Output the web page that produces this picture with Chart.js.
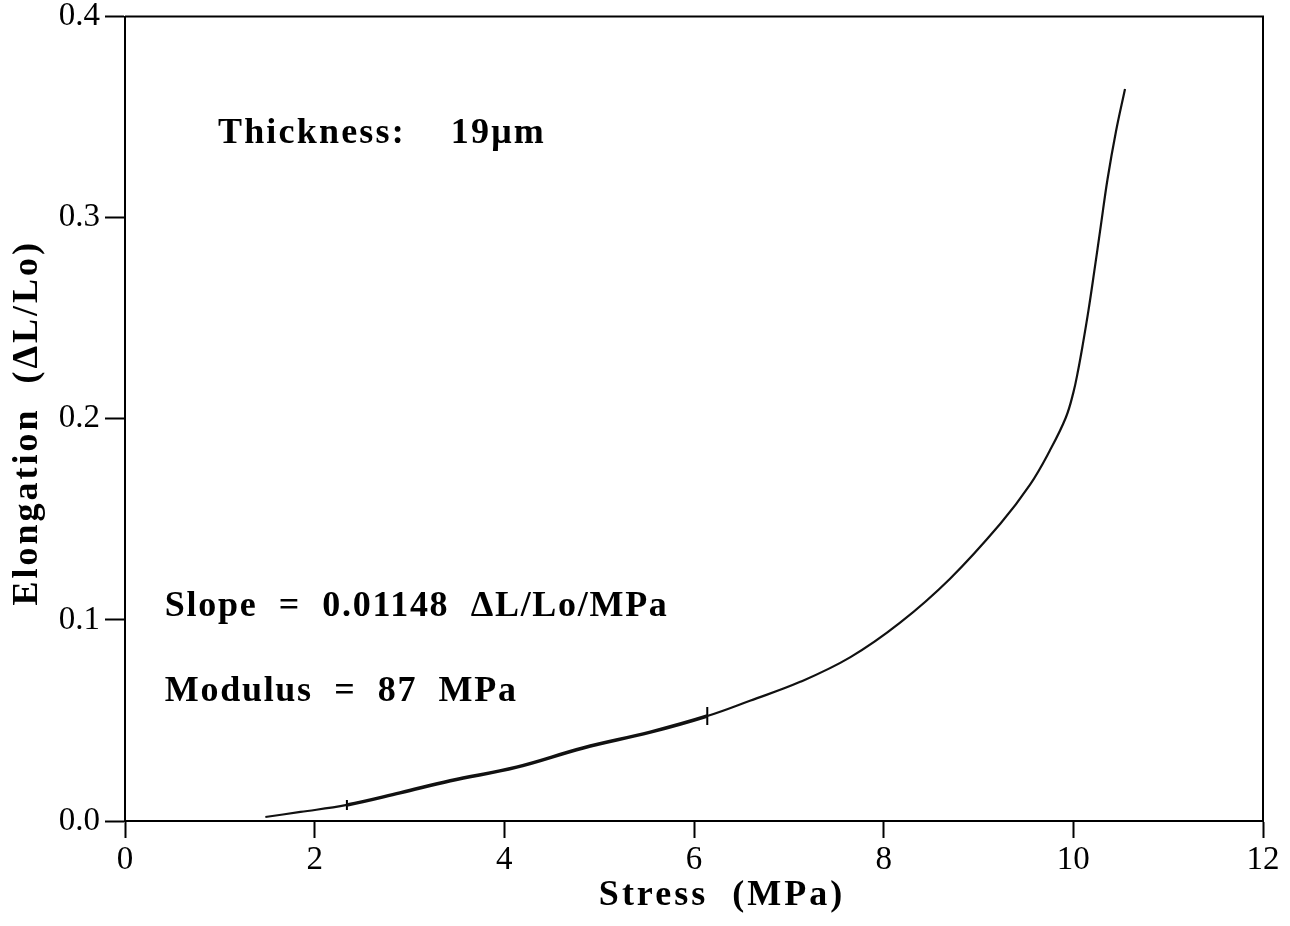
<!DOCTYPE html>
<html>
<head>
<meta charset="utf-8">
<script src="https://cdn.jsdelivr.net/npm/chart.js@4/dist/chart.umd.min.js"></script>
<style>
    html, body { margin: 0; padding: 0; background: #fff; }
    canvas { display: block; }
</style>
</head>
<body>
<canvas id="stressChart" width="1290" height="926"></canvas>
<script>
// Curve: stress (MPa) vs elongation (dL/Lo)
const stress = [1.48, 1.85, 2.34, 2.90, 3.43, 4.13, 4.83, 5.54, 6.14, 6.59, 7.12, 7.65, 8.17, 8.70, 9.23, 9.54, 9.75, 9.92, 10.00, 10.05, 10.10, 10.16, 10.22, 10.29, 10.36, 10.45, 10.545];
const elongation = [0.002, 0.0045, 0.008, 0.014, 0.020, 0.0268, 0.0363, 0.0442, 0.0522, 0.0598, 0.0692, 0.0815, 0.0985, 0.1205, 0.1478, 0.167, 0.184, 0.2005, 0.213, 0.224, 0.237, 0.254, 0.273, 0.296, 0.319, 0.343, 0.364];

// Cursor marks on the curve (start / end of the fit range)
const markStress = [2.34, 6.14];
const markElong = [0.008, 0.0522];
const markSize = [5, 9];

// Axis ticks
const xTicks = [0, 2, 4, 6, 8, 10, 12];
const yTicks = [0.0, 0.1, 0.2, 0.3, 0.4];

// Axis titles and text written inside the plot
const xTitle = 'Stress  (MPa)';
const yTitle = 'Elongation  (\u0394L/Lo)';
const notes = [
    { text: 'Thickness:    19\u03bcm', x: 0.98, y: 0.337 },
    { text: 'Slope  =  0.01148  \u0394L/Lo/MPa', x: 0.42, y: 0.102 },
    { text: 'Modulus  =  87  MPa', x: 0.42, y: 0.0596 }
];

const serif = '"Liberation Serif", "Times New Roman", serif';

// Frame on top and right, axis titles and notes
const framePlugin = {
    id: 'frame',
    afterDraw(chart) {
        const { ctx, chartArea: a, scales } = chart;
        ctx.save();
        ctx.strokeStyle = '#000';
        ctx.lineWidth = 2;
        ctx.beginPath();
        ctx.moveTo(a.left, a.top);
        ctx.lineTo(a.right, a.top);
        ctx.lineTo(a.right, a.bottom);
        ctx.stroke();

        ctx.fillStyle = '#000';
        ctx.font = 'bold 36px ' + serif;
        ctx.letterSpacing = '3px';
        ctx.textAlign = 'center';
        ctx.textBaseline = 'middle';
        ctx.fillText(xTitle, (a.left + a.right) / 2 + 28, 896);
        ctx.save();
        ctx.translate(28, (a.top + a.bottom) / 2 + 4);
        ctx.rotate(-Math.PI / 2);
        ctx.fillText(yTitle, 0, 0);
        ctx.restore();

        ctx.font = 'bold 36px ' + serif;
        ctx.textBaseline = 'alphabetic';
        ctx.textAlign = 'left';
        notes.forEach((n, i) => {
            ctx.letterSpacing = i === 0 ? '2.2px' : '1.7px';
            ctx.fillText(n.text, scales.x.getPixelForValue(n.x), scales.y.getPixelForValue(n.y));
        });
        ctx.restore();
    }
};

// fit range between the two cursor marks is drawn heavier
const inRange = (v) => v >= markStress[0] - 0.01 && v <= markStress[1] + 0.01;

new Chart(document.getElementById('stressChart'), {
    type: 'scatter',
    data: {
        datasets: [
            {
                data: stress.map((s, i) => ({ x: s, y: elongation[i] })),
                showLine: true,
                borderColor: '#111',
                borderWidth: 2.2,
                pointRadius: 0,
                tension: 0.4,
                segment: {
                    borderWidth: ctx => (inRange(ctx.p0.parsed.x) && inRange(ctx.p1.parsed.x)) ? 3.5 : 2.2
                }
            },
            {
                data: markStress.map((s, i) => ({ x: s, y: markElong[i] })),
                pointStyle: 'line',
                rotation: 90,
                pointRadius: markSize,
                borderColor: '#000',
                borderWidth: 2,
                showLine: false
            }
        ]
    },
    options: {
        responsive: false,
        animation: false,
        layout: { padding: { top: 11, right: 27, left: 0, bottom: 0 } },
        plugins: {
            legend: { display: false },
            tooltip: { enabled: false }
        },
        scales: {
            x: {
                type: 'linear',
                min: 0,
                max: 12,
                afterBuildTicks: (scale) => { scale.ticks = xTicks.map(v => ({ value: v })); },
                afterFit: (scale) => { scale.height = 105; },
                border: { display: true, color: '#000', width: 2 },
                grid: { drawOnChartArea: false, drawTicks: true, tickLength: 17, tickColor: '#000', tickWidth: 2 },
                ticks: {
                    color: '#000',
                    padding: 3,
                    maxRotation: 0,
                    font: { family: serif, size: 33 },
                    callback: (v) => String(v)
                }
            },
            y: {
                type: 'linear',
                min: 0,
                max: 0.4,
                afterBuildTicks: (scale) => { scale.ticks = yTicks.map(v => ({ value: v })); },
                afterFit: (scale) => { scale.width = 125; },
                border: { display: true, color: '#000', width: 2 },
                grid: { drawOnChartArea: false, drawTicks: true, tickLength: 20, tickColor: '#000', tickWidth: 2 },
                ticks: {
                    color: '#000',
                    padding: 5,
                    font: { family: serif, size: 33, lineHeight: 0.7 },
                    callback: (v) => v.toFixed(1)
                }
            }
        }
    },
    plugins: [framePlugin]
});
</script>
</body>
</html>
